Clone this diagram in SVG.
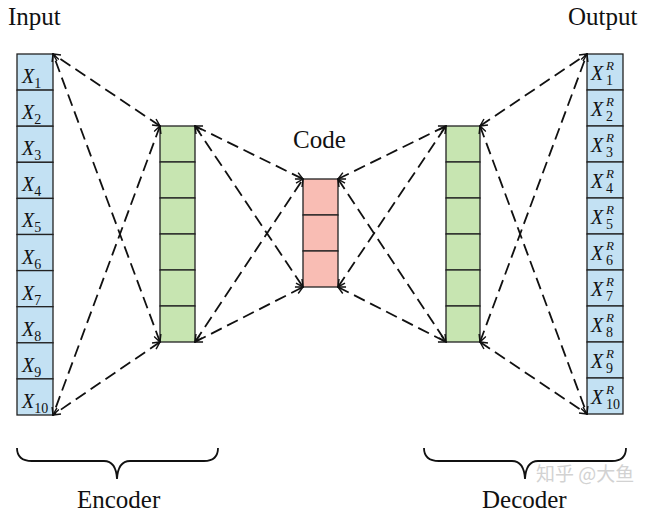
<svg xmlns="http://www.w3.org/2000/svg" width="650" height="517" viewBox="0 0 650 517">
<style>
.lbl{font-family:"Liberation Serif","Times New Roman",serif;font-size:25px;fill:#111}
.x{font-family:"Liberation Serif","Times New Roman",serif;font-style:italic;font-size:20px;fill:#111}
.s{font-size:14px;font-style:normal}
.r{font-size:13px;font-style:italic}
.blue{fill:#c3e1f3;stroke:#222;stroke-width:1.3}
.green{fill:#c7e5b1;stroke:#222;stroke-width:1.3}
.pink{fill:#f9bdb4;stroke:#222;stroke-width:1.3}
.dash{fill:none;stroke:#111;stroke-width:1.8;stroke-dasharray:12 6;marker-start:url(#ah);marker-end:url(#ah)}
.brace{fill:none;stroke:#111;stroke-width:1.8}
.wm{font-family:"Noto Sans CJK SC","Noto Sans",sans-serif;font-size:19px;fill:#d2d2d2}
</style>
<defs>
<marker id="ah" viewBox="0 0 10 10" refX="9" refY="5" markerWidth="9" markerHeight="9" markerUnits="userSpaceOnUse" orient="auto-start-reverse">
<path d="M1,1 L9,5 L1,9" fill="none" stroke="#111" stroke-width="1.6"/>
</marker>
</defs>
<rect width="650" height="517" fill="#fff"/>
<text class="lbl" x="8" y="25">Input</text>
<text class="lbl" x="568" y="25">Output</text>
<text class="lbl" x="293" y="148">Code</text>
<text class="lbl" x="77" y="508">Encoder</text>
<text class="lbl" x="482" y="508">Decoder</text>

<g id="input">
<rect class="blue" x="17" y="54" width="36" height="36.1"/>
<rect class="blue" x="17" y="90.1" width="36" height="36.1"/>
<rect class="blue" x="17" y="126.2" width="36" height="36.1"/>
<rect class="blue" x="17" y="162.3" width="36" height="36.1"/>
<rect class="blue" x="17" y="198.4" width="36" height="36.1"/>
<rect class="blue" x="17" y="234.5" width="36" height="36.1"/>
<rect class="blue" x="17" y="270.6" width="36" height="36.1"/>
<rect class="blue" x="17" y="306.7" width="36" height="36.1"/>
<rect class="blue" x="17" y="342.8" width="36" height="36.1"/>
<rect class="blue" x="17" y="378.9" width="36" height="36.1"/>
<text class="x" x="22" y="83">X<tspan class="s" dy="5">1</tspan></text>
<text class="x" x="22" y="119.1">X<tspan class="s" dy="5">2</tspan></text>
<text class="x" x="22" y="155.2">X<tspan class="s" dy="5">3</tspan></text>
<text class="x" x="22" y="191.3">X<tspan class="s" dy="5">4</tspan></text>
<text class="x" x="22" y="227.4">X<tspan class="s" dy="5">5</tspan></text>
<text class="x" x="22" y="263.5">X<tspan class="s" dy="5">6</tspan></text>
<text class="x" x="22" y="299.6">X<tspan class="s" dy="5">7</tspan></text>
<text class="x" x="22" y="335.7">X<tspan class="s" dy="5">8</tspan></text>
<text class="x" x="22" y="371.8">X<tspan class="s" dy="5">9</tspan></text>
<text class="x" x="22" y="407.9">X<tspan class="s" dy="5">10</tspan></text>
</g>

<g id="encoder">
<rect class="green" x="160" y="126" width="35" height="36"/>
<rect class="green" x="160" y="162" width="35" height="36"/>
<rect class="green" x="160" y="198" width="35" height="36"/>
<rect class="green" x="160" y="234" width="35" height="36"/>
<rect class="green" x="160" y="270" width="35" height="36"/>
<rect class="green" x="160" y="306" width="35" height="36"/>
</g>

<g id="code">
<rect class="pink" x="303" y="179" width="35" height="36"/>
<rect class="pink" x="303" y="215" width="35" height="36"/>
<rect class="pink" x="303" y="251" width="35" height="36"/>
</g>

<g id="decoder">
<rect class="green" x="446" y="126" width="34" height="36"/>
<rect class="green" x="446" y="162" width="34" height="36"/>
<rect class="green" x="446" y="198" width="34" height="36"/>
<rect class="green" x="446" y="234" width="34" height="36"/>
<rect class="green" x="446" y="270" width="34" height="36"/>
<rect class="green" x="446" y="306" width="34" height="36"/>
</g>

<g id="output">
<rect class="blue" x="587" y="54" width="36" height="36"/>
<rect class="blue" x="587" y="90" width="36" height="36"/>
<rect class="blue" x="587" y="126" width="36" height="36"/>
<rect class="blue" x="587" y="162" width="36" height="36"/>
<rect class="blue" x="587" y="198" width="36" height="36"/>
<rect class="blue" x="587" y="234" width="36" height="36"/>
<rect class="blue" x="587" y="270" width="36" height="36"/>
<rect class="blue" x="587" y="306" width="36" height="36"/>
<rect class="blue" x="587" y="342" width="36" height="36"/>
<rect class="blue" x="587" y="378" width="36" height="36"/>
<text class="x" x="591" y="80">X<tspan class="r" x="606" y="70">R</tspan><tspan class="s" x="606" y="85">1</tspan></text>
<text class="x" x="591" y="116">X<tspan class="r" x="606" y="106">R</tspan><tspan class="s" x="606" y="121">2</tspan></text>
<text class="x" x="591" y="152">X<tspan class="r" x="606" y="142">R</tspan><tspan class="s" x="606" y="157">3</tspan></text>
<text class="x" x="591" y="188">X<tspan class="r" x="606" y="178">R</tspan><tspan class="s" x="606" y="193">4</tspan></text>
<text class="x" x="591" y="224">X<tspan class="r" x="606" y="214">R</tspan><tspan class="s" x="606" y="229">5</tspan></text>
<text class="x" x="591" y="260">X<tspan class="r" x="606" y="250">R</tspan><tspan class="s" x="606" y="265">6</tspan></text>
<text class="x" x="591" y="296">X<tspan class="r" x="606" y="286">R</tspan><tspan class="s" x="606" y="301">7</tspan></text>
<text class="x" x="591" y="332">X<tspan class="r" x="606" y="322">R</tspan><tspan class="s" x="606" y="337">8</tspan></text>
<text class="x" x="591" y="368">X<tspan class="r" x="606" y="358">R</tspan><tspan class="s" x="606" y="373">9</tspan></text>
<text class="x" x="591" y="404">X<tspan class="r" x="606" y="394">R</tspan><tspan class="s" x="606" y="409">10</tspan></text>
</g>

<g id="connectors">
<line class="dash" x1="160" y1="126" x2="53" y2="54"/>
<line class="dash" x1="160" y1="342" x2="53" y2="54"/>
<line class="dash" x1="160" y1="126" x2="53" y2="415"/>
<line class="dash" x1="160" y1="342" x2="53" y2="415"/>
<line class="dash" x1="195" y1="126" x2="303" y2="179"/>
<line class="dash" x1="195" y1="126" x2="303" y2="287"/>
<line class="dash" x1="195" y1="342" x2="303" y2="179"/>
<line class="dash" x1="195" y1="342" x2="303" y2="287"/>
<line class="dash" x1="338" y1="179" x2="446" y2="126"/>
<line class="dash" x1="338" y1="179" x2="446" y2="342"/>
<line class="dash" x1="338" y1="287" x2="446" y2="126"/>
<line class="dash" x1="338" y1="287" x2="446" y2="342"/>
<line class="dash" x1="480" y1="126" x2="587" y2="54"/>
<line class="dash" x1="480" y1="126" x2="587" y2="414"/>
<line class="dash" x1="480" y1="342" x2="587" y2="54"/>
<line class="dash" x1="480" y1="342" x2="587" y2="414"/>
</g>

<g id="braces">
<path class="brace" d="M17,448 Q17,461 32,461 L104,461 Q116,461 117,479 Q118,461 130,461 L204,461 Q218,461 218,448"/>
<path class="brace" d="M424,448 Q424,461 439,461 L512,461 Q524,461 525,479 Q526,461 538,461 L612,461 Q626,461 626,448"/>
</g>

<text class="wm" x="536" y="481">知乎 @大鱼</text>
</svg>
